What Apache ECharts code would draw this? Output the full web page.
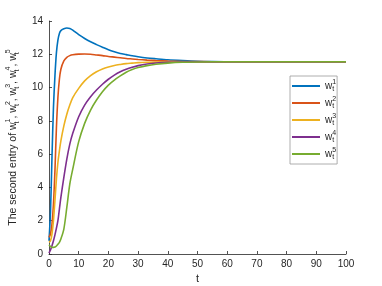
<!DOCTYPE html>
<html><head><meta charset="utf-8">
<script src="https://cdn.jsdelivr.net/npm/echarts@6/dist/echarts.min.js"></script>
<style>html,body{margin:0;padding:0;background:#fff}#c{width:382px;height:286px}</style>
</head><body><div id="c"></div>
<script>
const tValues = [0,0.5,1,1.5,2,2.5,3,3.5,4,5,6,7,8,10,12,14,16,18,20,22,24,26,28,30,33,36,40,45,50,55,60,70,80,90,100];
const w1 = [0.8,2.5,5.8,8.8,10.7,12.1,12.85,13.25,13.42,13.53,13.58,13.55,13.45,13.18,12.95,12.75,12.58,12.42,12.27,12.15,12.05,11.98,11.91,11.85,11.78,11.73,11.67,11.62,11.58,11.56,11.55,11.55,11.55,11.55,11.55];
const w2 = [1.0,1.2,1.8,3.0,5.0,7.6,9.4,10.5,11.1,11.6,11.82,11.92,11.97,12.01,12.02,12.0,11.96,11.92,11.87,11.83,11.79,11.75,11.72,11.69,11.65,11.62,11.59,11.57,11.56,11.55,11.55,11.55,11.55,11.55,11.55];
const w3 = [0.7,0.8,1.2,2.0,3.2,4.5,5.5,6.2,6.8,7.7,8.4,8.95,9.4,9.95,10.4,10.72,10.95,11.12,11.24,11.33,11.39,11.44,11.47,11.5,11.52,11.53,11.54,11.55,11.55,11.55,11.55,11.55,11.55,11.55,11.55];
const w4 = [0.05,0.25,0.5,0.8,1.15,1.55,2.0,2.7,3.4,4.6,5.7,6.6,7.25,8.25,8.95,9.45,9.85,10.2,10.5,10.75,10.95,11.1,11.22,11.32,11.42,11.48,11.52,11.54,11.55,11.55,11.55,11.55,11.55,11.55,11.55];
const w5 = [0.55,0.45,0.4,0.4,0.42,0.48,0.58,0.7,0.9,1.5,2.8,4.2,5.1,6.75,7.85,8.65,9.25,9.75,10.15,10.45,10.7,10.92,11.08,11.2,11.32,11.4,11.47,11.52,11.54,11.55,11.55,11.55,11.55,11.55,11.55];
const seriesNames = ['1','2','3','4','5'];
const seriesValues = [w1,w2,w3,w4,w5];
const colors = ['#0072BD','#D95319','#EDB120','#7E2F8E','#77AC30'];
const xTicks = {min:0,max:100,interval:10};
const yTicks = {min:0,max:14,interval:2};

const axisColor = '#262626';
const richW = {
  w:{fontSize:10.5,color:axisColor,fontFamily:'Liberation Sans',lineHeight:16,verticalAlign:'middle'},
  b:{fontSize:7,color:axisColor,fontFamily:'Liberation Sans',width:0,verticalAlign:'bottom',lineHeight:16},
  p:{fontSize:7,color:axisColor,fontFamily:'Liberation Sans',verticalAlign:'top',lineHeight:16},
  n:{fontSize:10.5,color:axisColor,fontFamily:'Liberation Sans',lineHeight:16,verticalAlign:'middle'}
};
function wlabel(k){return '{w|w}{b|t}{p|'+k+'}';}
const yName = '{n|The second entry of }' + seriesNames.map(wlabel).join('{n|, }');

const chart = echarts.init(document.getElementById('c'),null,{renderer:'canvas'});
chart.setOption({
  animation:false,
  backgroundColor:'#fff',
  color:colors,
  grid:{left:49,right:36,top:21,bottom:32,containLabel:false,outerBoundsMode:'none'},
  xAxis:{type:'value',min:xTicks.min,max:xTicks.max,interval:xTicks.interval,
    name:'t',nameLocation:'middle',nameGap:18,
    nameTextStyle:{color:axisColor,fontSize:11,fontFamily:'Liberation Sans'},
    axisLine:{lineStyle:{color:axisColor,width:0.8}},
    axisTick:{inside:true,length:3,lineStyle:{color:axisColor,width:0.8}},
    axisLabel:{color:axisColor,fontSize:10,fontFamily:'Liberation Sans',margin:5},
    splitLine:{show:false}},
  yAxis:{type:'value',min:yTicks.min,max:yTicks.max,interval:yTicks.interval,
    name:yName,nameLocation:'middle',nameGap:25,
    nameTextStyle:{rich:richW},
    axisLine:{show:true,lineStyle:{color:axisColor,width:0.8}},
    axisTick:{show:true,inside:true,length:3,lineStyle:{color:axisColor,width:0.8}},
    axisLabel:{color:axisColor,fontSize:10,fontFamily:'Liberation Sans',margin:6},
    splitLine:{show:false}},
  legend:{orient:'vertical',left:290,top:76,
    padding:[3,1,3,2],itemGap:3,itemWidth:28,itemHeight:14,
    backgroundColor:'#fff',borderColor:'#999',borderWidth:0.8,
    icon:'path://M0,0 L28,0 L28,2 L0,2 Z',
    formatter:function(n){return wlabel(n);},
    textStyle:{rich:{
      w:{fontSize:10,color:axisColor,fontFamily:'Liberation Sans',lineHeight:14,verticalAlign:'middle'},
      b:{fontSize:7,color:axisColor,fontFamily:'Liberation Sans',width:0,verticalAlign:'bottom',lineHeight:14},
      p:{fontSize:7,color:axisColor,fontFamily:'Liberation Sans',verticalAlign:'top',lineHeight:14}
    }}},
  series:seriesNames.map((n,i)=>({
    name:n,type:'line',smooth:0.3,showSymbol:false,symbol:'none',
    lineStyle:{width:1.6,color:colors[i]},itemStyle:{color:colors[i]},
    data:tValues.map((t,j)=>[t,seriesValues[i][j]])
  }))
});
</script></body></html>
